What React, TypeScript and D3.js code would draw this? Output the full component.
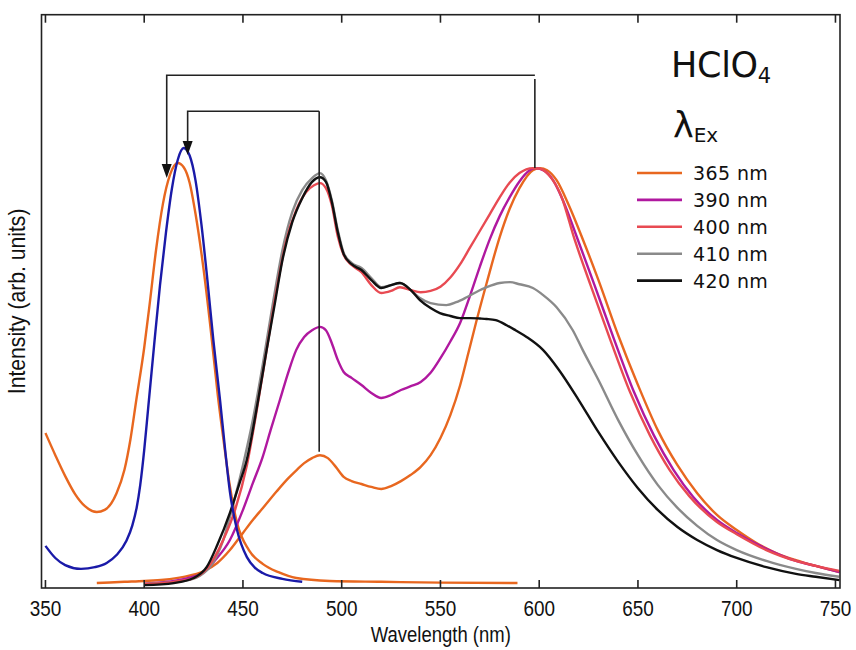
import React from "react";
import * as d3 from "d3";

// ---- data (wavelength nm, intensity arb. units) ----
const excOrange: [number, number][] = [
  [350, 36.6], [355, 31.3], [360, 26.3], [365, 22.0], [370, 19.1], [376, 17.7], [380, 18.2],
  [386, 22.2], [390, 27.8], [393, 35.0], [396, 44.5], [400, 57.0], [403, 68.4], [406, 80.4],
  [409.5, 91.5], [413, 98.3], [417, 101.2], [420, 100.2], [423, 96.5], [426, 89.0], [430, 76.0],
  [434, 60.0], [437.3, 45.5], [440, 35.5], [443, 25.0], [447, 15.1], [453, 8.6], [460, 5.3],
  [468, 3.3], [477, 1.9], [494, 1.2], [520, 1.0], [550, 0.8], [589, 0.7],
];
const excBlue: [number, number][] = [
  [350, 9.6], [355, 6.7], [360, 5.0], [368, 4.1], [375, 4.5], [381, 5.5], [386, 7.4], [391, 10.8],
  [394, 14.5], [396.2, 18.8], [398, 24.2], [400, 32.5], [402, 42.5], [405, 57.5], [408, 72.0],
  [411, 84.5], [414, 95.0], [417, 102.0], [420, 104.8], [423, 103.0], [426, 97.0], [429, 86.4],
  [432, 73.2], [435, 58.9], [438.4, 44.5], [441, 32.5], [443.4, 22.5], [447, 13.4], [452, 6.9],
  [456, 4.4], [460, 3.1], [470, 1.7], [480, 1.0],
];
const em365: [number, number][] = [
  [376, 0.7], [390, 1.0], [400, 1.2], [410, 1.5], [420, 2.2], [430, 3.5], [437, 5.5], [443.4, 8.6],
  [450, 12.7], [455, 15.8], [460, 18.6], [467, 22.6], [473, 25.8], [477.3, 27.8], [481, 29.4],
  [485, 30.6], [489, 31.3], [493, 30.6], [497, 28.5], [501, 26.1], [505, 25.1], [510, 24.4],
  [515, 23.7], [520, 23.2], [525, 23.9], [530, 25.1], [535, 26.6], [540, 28.5], [545, 31.3],
  [550, 35.4], [555, 40.9], [560, 48.1], [564, 55.5], [568, 63.0], [573.4, 72.5], [580, 83.5],
  [585, 90.2], [590, 95.2], [596.8, 99.5], [600.4, 100.0], [604, 99.5], [608.8, 97.1], [615, 91.1],
  [622.2, 82.8], [630, 73.2], [640, 60.0], [650, 48.1], [660, 37.3], [670, 28.9], [680, 22.2],
  [690, 17.0], [700, 13.4], [710, 10.3], [720, 7.9], [730, 6.2], [740, 4.8], [752, 3.3],
];
const em390: [number, number][] = [
  [400, 0.5], [405, 0.7], [415, 1.2], [422, 1.9], [429.7, 3.1], [436, 6.2], [443.4, 11.0],
  [450, 18.2], [455, 24.6], [460, 30.9], [464, 37.3], [468.7, 44.5], [473, 51.2], [477, 56.5],
  [481, 59.6], [485, 61.2], [489, 62.0], [492, 61.2], [495, 58.1], [498, 54.1], [501, 51.2],
  [505, 49.8], [510, 48.1], [515, 46.2], [520, 45.0], [525, 45.7], [530, 46.9], [535, 47.8],
  [540, 48.8], [545, 51.0], [550, 54.5], [555, 58.5], [560, 63.0], [565, 69.5], [570, 76.5],
  [575, 83.0], [580, 88.5], [585, 93.0], [590, 96.8], [595, 99.4], [598, 100.0], [602, 99.5],
  [607, 97.1], [612, 92.3], [619.6, 82.8], [628, 72.0], [638, 58.9], [648, 46.4], [658, 36.1],
  [668, 27.8], [678, 21.3], [690, 15.8], [700, 12.7], [715, 8.9], [730, 6.0], [740, 4.8], [752, 3.3],
];
const em400: [number, number][] = [
  [400, 0.5], [415, 1.0], [425, 1.9], [432, 4.3], [440, 11.0], [446, 18.2], [452, 28.9],
  [457, 42.1], [462, 56.5], [467, 70.8], [472, 82.8], [477, 90.0], [482, 94.3], [486, 95.9],
  [489, 96.4], [492, 95.2], [495, 91.1], [498, 83.7], [501, 79.2], [505, 76.8], [510, 75.1],
  [515, 72.0], [520, 70.1], [525, 70.6], [529.5, 71.5], [535, 70.8], [540, 70.3], [545, 70.6],
  [550, 71.6], [555, 73.8], [560, 77.0], [565, 81.0], [570, 85.0], [575, 89.0], [580, 93.0],
  [585, 96.5], [590, 98.8], [596.8, 100.0], [600, 99.9], [605, 98.3], [611, 93.5], [618, 82.8],
  [626, 72.0], [636, 58.9], [646, 46.4], [656, 36.1], [666, 27.8], [676, 21.5], [690, 15.3],
  [700, 12.4], [715, 8.6], [730, 6.0], [740, 4.8], [752, 3.6],
];
const em410: [number, number][] = [
  [400, 0.5], [420, 1.2], [428, 2.4], [434, 5.0], [440, 11.0], [445, 19.4], [450, 28.9],
  [455, 39.7], [460, 52.9], [465, 67.2], [470, 80.4], [475, 89.5], [480, 94.7], [485, 97.6],
  [489, 98.8], [492, 97.1], [495, 92.3], [498, 85.2], [501, 79.7], [505, 77.3], [510, 76.1],
  [515, 73.7], [520, 71.5], [525, 72.0], [529.5, 72.5], [535, 70.8], [539.6, 68.9], [545, 67.7],
  [553, 67.2], [558, 67.9], [563.3, 69.1], [568, 70.3], [573.4, 71.5], [580, 72.5], [585.2, 72.7],
  [590, 72.2], [596.8, 71.3], [602, 69.6], [608.8, 66.7], [617, 61.2], [622, 56.5], [630, 49.3],
  [640, 39.7], [650, 31.3], [660, 24.2], [670, 18.7], [680, 14.4], [690, 11.0], [700, 8.6],
  [715, 6.0], [730, 4.1], [740, 3.1], [752, 2.2],
];
const em420: [number, number][] = [
  [400, 0.2], [415, 0.7], [425, 1.9], [431.6, 4.5], [437, 9.8], [443.4, 17.5], [448, 24.2],
  [451.9, 30.1], [457.7, 44.5], [462, 56.5], [466, 67.2], [470, 78.0], [475, 87.1], [480, 92.8],
  [485, 96.7], [489, 97.8], [492, 96.7], [495, 91.9], [498, 84.7], [501, 79.4], [505, 77.0],
  [510, 75.6], [515, 73.2], [520, 71.3], [525, 72.0], [529.5, 72.5], [535, 70.8], [539.6, 68.4],
  [545, 66.5], [549.7, 65.3], [555, 64.6], [559.9, 64.1], [565, 64.1], [570, 64.0], [573.4, 63.9],
  [578, 63.6], [583.5, 62.4], [588, 61.2], [593.6, 59.6], [601.9, 56.5], [610, 51.7], [620, 44.5],
  [630, 36.8], [640, 29.7], [650, 23.4], [660, 18.2], [670, 14.1], [680, 11.0], [690, 8.6],
  [700, 6.7], [715, 4.5], [730, 2.9], [740, 2.2], [752, 1.4],
];

const legendLabels = ["365 nm", "390 nm", "400 nm", "410 nm", "420 nm"];
const xTicks = [350, 400, 450, 500, 550, 600, 650, 700, 750];

// annotation brackets: [leftλ, rightλ, topI, arrowTipI, rightBottomI, rightTopI]
const outerBracket = [411.4, 597.8, 122.2, 97.6, 100.0, 121.3];
const innerBracket = [422.0, 488.6, 113.6, 103.1, 32.1, 113.6];

const C = {
  orange: "#E8671F",
  purple: "#B0189F",
  red: "#E84A52",
  gray: "#8A8A8A",
  black: "#111111",
  blue: "#1A1AA8",
};

const AXIS_FONT = "'Liberation Sans', Arial, sans-serif";
const NARROW = 0.86;

export default function App() {
  const W = 856, H = 650;
  const x = d3.scaleLinear().domain([348, 752.3]).range([41.5, 840]);
  const y = d3.scaleLinear().domain([-0.48, 136.7]).range([588, 14.7]);
  const line = d3
    .line<[number, number]>()
    .x((d) => x(d[0]))
    .y((d) => y(d[1]))
    .curve(d3.curveMonotoneX);

  const series: { data: [number, number][]; color: string }[] = [
    { data: excOrange, color: C.orange },
    { data: em365, color: C.orange },
    { data: em390, color: C.purple },
    { data: em410, color: C.gray },
    { data: em400, color: C.red },
    { data: em420, color: C.black },
    { data: excBlue, color: C.blue },
  ];
  const legendColors = [C.orange, C.purple, C.red, C.gray, C.black];

  const bracket = (b: number[], key: string) => {
    const [l, r, top, tip, rb, rt] = b;
    const xl = x(l), xr = x(r), yt = y(top), ytip = y(tip);
    const ah = 14, aw = 5;
    return (
      <g key={key} stroke="#222" strokeWidth={1.6} fill="none">
        <path d={`M${xl},${ytip - ah + 2}L${xl},${yt}L${xr},${yt}`} />
        <path d={`M${xr},${y(rt)}L${xr},${y(rb)}`} />
        <path d={`M${xl - aw},${ytip - ah}L${xl + aw},${ytip - ah}L${xl},${ytip}Z`} fill="#111" stroke="none" />
      </g>
    );
  };

  const [x0, x1] = x.range();
  const [yb, ytp] = y.range();
  return (
    <svg width={W} height={H} style={{ position: "absolute", left: 0, top: 0, background: "#fff" }}>
      <rect x={0} y={0} width={W} height={H} fill="#fff" />
      {series.map((s, i) => (
        <path key={i} d={line(s.data) || ""} fill="none" stroke={s.color} strokeWidth={2.4} strokeLinejoin="round" />
      ))}
      {bracket(outerBracket, "outer")}
      {bracket(innerBracket, "inner")}
      {/* frame */}
      <rect x={x0} y={ytp} width={x1 - x0} height={yb - ytp} fill="none" stroke="#222" strokeWidth={1.6} />
      {xTicks.map((t) => (
        <g key={t}>
          <line x1={x(t)} x2={x(t)} y1={yb} y2={yb - 8} stroke="#222" strokeWidth={1.6} />
          <line x1={x(t)} x2={x(t)} y1={ytp} y2={ytp + 8} stroke="#222" strokeWidth={1.6} />
          <text
            transform={`translate(${x(t)},616) scale(${NARROW},1)`}
            textAnchor="middle"
            fontFamily={AXIS_FONT}
            fontSize={22}
            fill="#111"
          >
            {t}
          </text>
        </g>
      ))}
      <text
        transform={`translate(${(x0 + x1) / 2},642) scale(${NARROW},1)`}
        textAnchor="middle"
        fontFamily={AXIS_FONT}
        fontSize={21.5}
        fill="#111"
      >
        Wavelength (nm)
      </text>
      <text
        transform={`translate(25,${(yb + ytp) / 2}) rotate(-90) scale(0.9,1)`}
        textAnchor="middle"
        fontFamily={AXIS_FONT}
        fontSize={23.5}
        fill="#111"
      >
        Intensity (arb. units)
      </text>
      {/* title */}
      <text x={671} y={77} fontFamily="DejaVu Sans, sans-serif" fontSize={35} fill="#111" letterSpacing={-0.3}>
        HClO<tspan fontSize={21} dy={6}>4</tspan>
      </text>
      <text x={673} y={137} fontFamily="DejaVu Sans, sans-serif" fontSize={35} fill="#111">
        λ<tspan fontSize={20} dy={5}>Ex</tspan>
      </text>
      {legendLabels.map((lab, i) => {
        const ly = 173 + i * 26.9;
        return (
          <g key={lab}>
            <line x1={637} x2={682} y1={ly} y2={ly} stroke={legendColors[i]} strokeWidth={2.6} />
            <text x={693} y={ly + 7} fontFamily="DejaVu Sans, sans-serif" fontSize={19} fill="#111" letterSpacing={0.4}>
              {lab}
            </text>
          </g>
        );
      })}
    </svg>
  );
}
